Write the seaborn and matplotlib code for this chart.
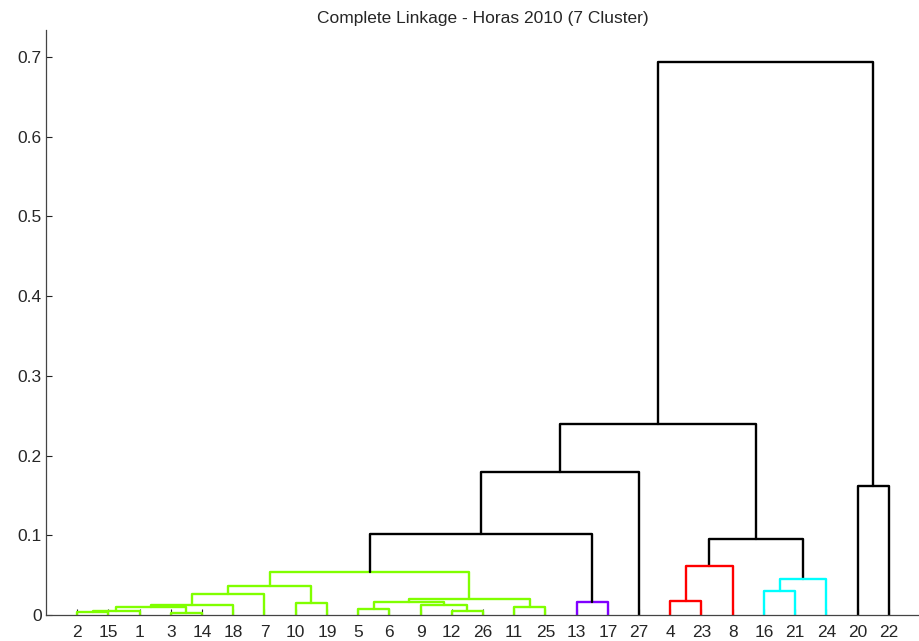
import matplotlib
matplotlib.use("Agg")
import matplotlib.pyplot as plt
import pandas as pd
import seaborn as sns

# linkage rows: leaves are 1..27, row i creates cluster 28+i
link_left = [3, 2, 29, 12, 5, 30, 11, 33, 9, 10, 32, 13, 4,
             38, 35, 16, 42, 43, 44, 40, 47, 46, 20, 49, 51, 52]
link_right = [14, 15, 1, 26, 6, 28, 25, 18, 31, 19, 36, 17, 23,
              34, 7, 21, 37, 24, 41, 8, 45, 39, 22, 27, 48, 50]
link_height = [0.003, 0.004, 0.005, 0.0056, 0.008, 0.0097, 0.0095, 0.0125, 0.013,
               0.0155, 0.016, 0.0167, 0.0176, 0.020, 0.026, 0.030, 0.036, 0.045,
               0.054, 0.062, 0.095, 0.102, 0.162, 0.179, 0.240, 0.694]
color_threshold = 0.07
group_colors = ["#80ff00", "#8000ff", "#ff0000", "#00ffff"]
y_ticks = [0, 0.1, 0.2, 0.3, 0.4, 0.5, 0.6, 0.7]
y_tick_labels = ["0", "0.1", "0.2", "0.3", "0.4", "0.5", "0.6", "0.7"]
title = "Complete Linkage - Horas 2010 (7 Cluster)"

n_leaves = len(link_left) + 1
root = n_leaves + len(link_left)

def children(node):
    i = node - n_leaves - 1
    return link_left[i], link_right[i], link_height[i]

# leaf order from left to right
leaf_order = []
def walk(node):
    if node <= n_leaves:
        leaf_order.append(node)
        return
    a, b, _ = children(node)
    walk(a)
    walk(b)
walk(root)

xpos = {leaf: i + 1 for i, leaf in enumerate(leaf_order)}
ypos = {leaf: 0.0 for leaf in leaf_order}

rows = []
group_iter = iter(group_colors)
def build(node, color):
    if node <= n_leaves:
        return
    a, b, h = children(node)
    if color is None and h < color_threshold:
        color = next(group_iter)
    build(a, color)
    build(b, color)
    xpos[node] = (xpos[a] + xpos[b]) / 2
    ypos[node] = h
    c = color if color is not None else "#000000"
    for x, y in [(xpos[a], ypos[a]), (xpos[a], h), (xpos[b], h), (xpos[b], ypos[b])]:
        rows.append({"x": x, "y": y, "link": node, "colour": c})
build(root, None)
segs = pd.DataFrame(rows)

sns.set_theme(style="ticks")
plt.rcParams["font.family"] = ["Liberation Sans", "DejaVu Sans"]

fig = plt.figure(figsize=(9.2, 6.41), dpi=100)
ax = fig.add_axes([46 / 920, 26 / 641, 874 / 920, 585 / 641])

sns.lineplot(data=segs, x="x", y="y", units="link", estimator=None, sort=False,
             hue="colour", palette={c: c for c in segs["colour"].unique()},
             legend=False, linewidth=1.7, ax=ax)

ax.set_xlim(0, n_leaves + 1)
ax.set_ylim(0, 0.734)
ax.set_xticks(range(1, n_leaves + 1))
ax.set_xticklabels([str(l) for l in leaf_order], fontsize=12.5)
ax.set_yticks(y_ticks)
ax.set_yticklabels(y_tick_labels, fontsize=12.5)
ax.set_xlabel("")
ax.set_ylabel("")
ax.tick_params(direction="in", length=4, width=0.8, color="#222222")
ax.tick_params(axis="x", pad=7)
ax.tick_params(axis="y", pad=3)
for s in ["top", "right"]:
    ax.spines[s].set_visible(False)
for s in ["left", "bottom"]:
    ax.spines[s].set_color("#444444")
    ax.spines[s].set_linewidth(0.9)
ax.set_title(title, fontsize=12.5, pad=5)

fig.savefig("out.png", dpi=100)
